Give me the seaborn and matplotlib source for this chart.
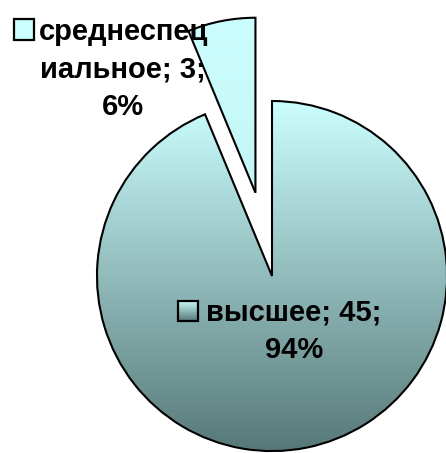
import numpy as np
import matplotlib
matplotlib.use("Agg")
import matplotlib.pyplot as plt
import seaborn as sns
from matplotlib.colors import LinearSegmentedColormap
from matplotlib.patches import Rectangle

# Education level of respondents
categories = ["высшее", "среднеспециальное"]
counts = [45, 3]
explode = [0.0, 0.485]

sns.set_theme(style="white")
plt.rcParams["font.family"] = ["Liberation Sans", "DejaVu Sans"]

fig = plt.figure(figsize=(4.46, 4.53), dpi=100)
ax = fig.add_axes([0, 0, 1, 1])

wedges, _ = ax.pie(
    counts,
    startangle=90,
    counterclock=False,
    explode=explode,
    radius=1.0,
    wedgeprops=dict(facecolor="none", edgecolor="black", linewidth=1.5, zorder=3),
)
ax.set_xlim(-1.554, 0.994)
ax.set_ylim(-1.011, 1.577)
ax.set_aspect("equal")
ax.axis("off")

# vertical gradient fills clipped to each wedge
grad = np.linspace(0, 1, 256).reshape(-1, 1)
big_cmap = LinearSegmentedColormap.from_list("teal", ["#587878", "#CCFFFF"])
small_cmap = LinearSegmentedColormap.from_list("cyan", ["#C4F5F5", "#CCFFFF"])

im = ax.imshow(grad, cmap=big_cmap, origin="lower", extent=(-1, 1, -1, 1),
               aspect="auto", zorder=1)
im.set_clip_path(wedges[0])
im2 = ax.imshow(grad, cmap=small_cmap, origin="lower", extent=(-1.2, 1.0, 0.4, 1.6),
                aspect="auto", zorder=1)
im2.set_clip_path(wedges[1])

total = sum(counts)
pcts = [round(100 * c / total) for c in counts]

label_font = dict(fontsize=21, fontweight="bold", color="black",
                  ha="center", va="center", linespacing=1.45, zorder=5)

# label of the large slice
ax.text(0.126, -0.314, f"{categories[0]}; {counts[0]};\n{pcts[0]}%", **label_font)
# label of the exploded slice, wrapped like the original
name = categories[1]
ax.text(-0.85, 1.18, f"{name[:10]}\n{name[10:]}; {counts[1]};\n{pcts[1]}%", **label_font)

# legend keys beside the labels
ks = 0.118
kx, ky = -0.48, -0.2
key_big = Rectangle((kx - ks / 2, ky - ks / 2), ks, ks, facecolor="none",
                    edgecolor="black", linewidth=1.6, zorder=6)
ax.add_patch(key_big)
kim = ax.imshow(grad, cmap=big_cmap, origin="lower",
                extent=(kx - ks / 2, kx + ks / 2, ky - ks / 2, ky + ks / 2),
                aspect="auto", zorder=5)
kim.set_clip_path(key_big)

sx, sy = -1.417, 1.41
ax.add_patch(Rectangle((sx - ks / 2, sy - ks / 2), ks, ks, facecolor="#CCFFFF",
                       edgecolor="black", linewidth=1.6, zorder=6))

ax.set_xlim(-1.554, 0.994)
ax.set_ylim(-1.011, 1.577)

fig.savefig("out.png", dpi=100)
